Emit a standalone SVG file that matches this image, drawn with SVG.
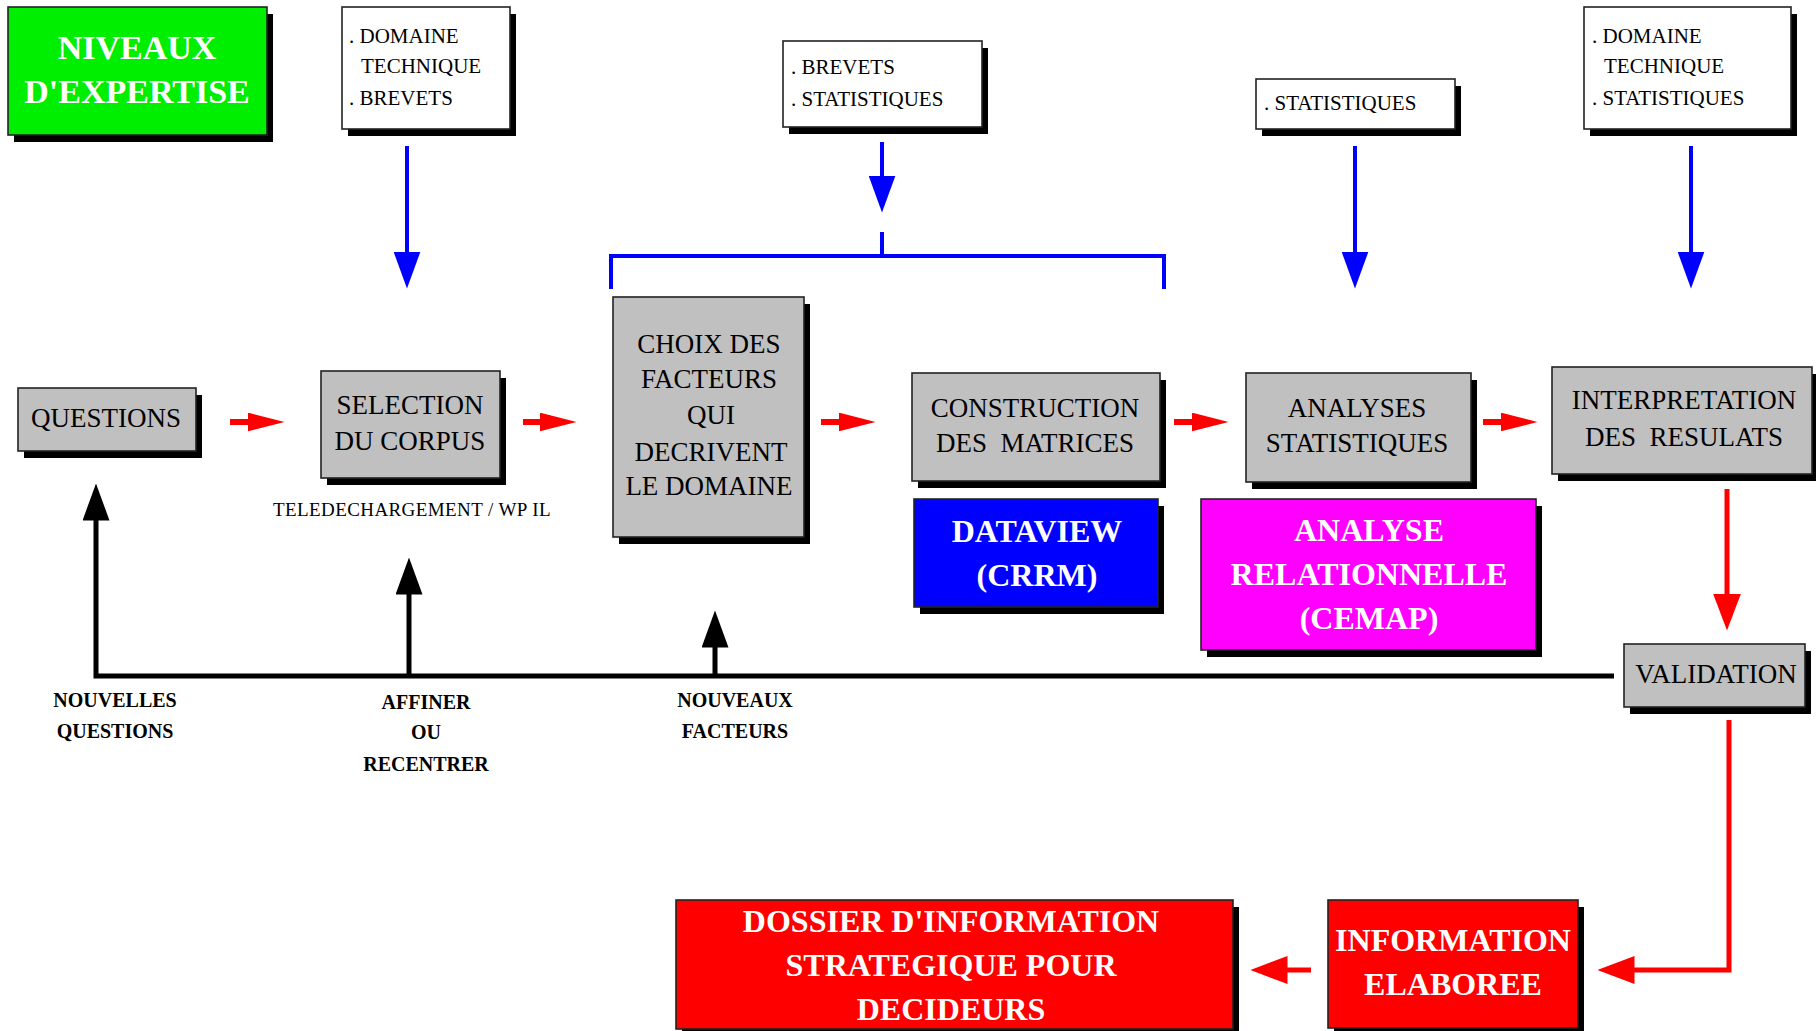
<svg xmlns="http://www.w3.org/2000/svg" width="1816" height="1031" viewBox="0 0 1816 1031">
<defs>
<style>
text{font-family:"Liberation Serif","Times New Roman",serif}
.box{stroke:#222;stroke-width:1.6}
.sh{fill:#000}
.gray{fill:#c0c0c0}
.white{fill:#fff}
.g{font-size:27px;fill:#000;text-anchor:middle;white-space:pre}
.w{font-size:21px;fill:#000}
.b{font-size:32px;font-weight:bold;fill:#fff;text-anchor:middle}
.lbl{font-size:20px;font-weight:bold;fill:#000;text-anchor:middle}
.small{font-size:19px;letter-spacing:0.4px;fill:#000;text-anchor:middle}
.blue{stroke:#0000ff;stroke-width:4;fill:none}
.blk{stroke:#000;stroke-width:5;fill:none}
.red{stroke:#ff0000;stroke-width:6;fill:none}
.red2{stroke:#ff0000;stroke-width:5;fill:none}
</style>
<marker id="hb" markerUnits="userSpaceOnUse" markerWidth="37" markerHeight="27" viewBox="0 0 37 27" refX="0.5" refY="13.5" orient="auto"><path d="M0,0L37,13.5L0,27z" fill="#0000ff"/></marker>
<marker id="hk" markerUnits="userSpaceOnUse" markerWidth="37" markerHeight="27" viewBox="0 0 37 27" refX="0.5" refY="13.5" orient="auto"><path d="M0,0L37,13.5L0,27z" fill="#000"/></marker>
<marker id="hr" markerUnits="userSpaceOnUse" markerWidth="37" markerHeight="19" viewBox="0 0 37 19" refX="0.5" refY="9.5" orient="auto"><path d="M0,0L37,9.5L0,19z" fill="#ff0000"/></marker>
<marker id="hR" markerUnits="userSpaceOnUse" markerWidth="37" markerHeight="28" viewBox="0 0 37 28" refX="0.5" refY="14" orient="auto"><path d="M0,0L37,14L0,28z" fill="#ff0000"/></marker>
</defs>
<rect width="1816" height="1031" fill="#fff"/>

<g id="connectors">
<path class="blue" d="M407,146V252" marker-end="url(#hb)"/>
<path class="blue" d="M882,142V176" marker-end="url(#hb)"/>
<path class="blue" d="M882,232V256M611,289V256H1164V289"/>
<path class="blue" d="M1355,146V252" marker-end="url(#hb)"/>
<path class="blue" d="M1691,146V252" marker-end="url(#hb)"/>
<path class="red" d="M230,422H248" marker-end="url(#hr)"/>
<path class="red" d="M523,422H540" marker-end="url(#hr)"/>
<path class="red" d="M821,422H839" marker-end="url(#hr)"/>
<path class="red" d="M1174,422H1192" marker-end="url(#hr)"/>
<path class="red" d="M1483,422H1501" marker-end="url(#hr)"/>
<path class="red2" d="M1727,489V594" marker-end="url(#hR)"/>
<path class="red2" d="M1729,720V970H1634" marker-end="url(#hR)"/>
<path class="red2" d="M1311,970H1287" marker-end="url(#hR)"/>
<path class="blk" d="M1614,676H96V520" marker-end="url(#hk)"/>
<path class="blk" d="M409,676V594" marker-end="url(#hk)"/>
<path class="blk" d="M715,676V647" marker-end="url(#hk)"/>
</g>

<g id="niveaux">
<rect class="sh" x="14" y="14" width="259" height="128"/>
<rect class="box" x="8" y="7" width="259" height="128" fill="#00ee00"/>
<text class="b" x="137" y="59" style="font-size:34px">NIVEAUX</text>
<text class="b" x="137" y="103" style="font-size:34px">D'EXPERTISE</text>
</g>

<g id="src-domaine-brevets">
<rect class="sh" x="348" y="14" width="168" height="122"/>
<rect class="box white" x="342" y="7" width="168" height="122"/>
<text class="w" x="349" y="43">. DOMAINE</text>
<text class="w" x="361" y="73">TECHNIQUE</text>
<text class="w" x="349" y="105">. BREVETS</text>
</g>

<g id="src-brevets-stats">
<rect class="sh" x="789" y="48" width="199" height="86"/>
<rect class="box white" x="783" y="41" width="199" height="86"/>
<text class="w" x="791" y="74">. BREVETS</text>
<text class="w" x="791" y="106">. STATISTIQUES</text>
</g>

<g id="src-stats">
<rect class="sh" x="1262" y="86" width="199" height="50"/>
<rect class="box white" x="1256" y="79" width="199" height="50"/>
<text class="w" x="1264" y="110">. STATISTIQUES</text>
</g>

<g id="src-domaine-stats">
<rect class="sh" x="1590" y="14" width="207" height="122"/>
<rect class="box white" x="1584" y="7" width="207" height="122"/>
<text class="w" x="1592" y="43">. DOMAINE</text>
<text class="w" x="1604" y="73">TECHNIQUE</text>
<text class="w" x="1592" y="105">. STATISTIQUES</text>
</g>

<g id="questions">
<rect class="sh" x="24" y="395" width="178" height="63"/>
<rect class="box gray" x="18" y="388" width="178" height="63"/>
<text class="g" x="106" y="427">QUESTIONS</text>
</g>

<g id="selection">
<rect class="sh" x="327" y="378" width="179" height="107"/>
<rect class="box gray" x="321" y="371" width="179" height="107"/>
<text class="g" x="410" y="414">SELECTION</text>
<text class="g" x="410" y="450">DU CORPUS</text>
<text class="small" x="412" y="516">TELEDECHARGEMENT / WP IL</text>
</g>

<g id="choix">
<rect class="sh" x="619" y="304" width="191" height="240"/>
<rect class="box gray" x="613" y="297" width="191" height="240"/>
<text class="g" x="709" y="353">CHOIX DES</text>
<text class="g" x="709" y="388">FACTEURS</text>
<text class="g" x="711" y="424">QUI</text>
<text class="g" x="711" y="461">DECRIVENT</text>
<text class="g" x="709" y="495">LE DOMAINE</text>
</g>

<g id="construction">
<rect class="sh" x="918" y="380" width="248" height="108"/>
<rect class="box gray" x="912" y="373" width="248" height="108"/>
<text class="g" x="1035" y="417">CONSTRUCTION</text>
<text class="g" x="1035" y="452">DES  MATRICES</text>
</g>

<g id="dataview">
<rect class="sh" x="920" y="506" width="244" height="108"/>
<rect class="box" x="914" y="499" width="244" height="108" fill="#0000ff"/>
<text class="b" x="1037" y="542">DATAVIEW</text>
<text class="b" x="1037" y="586">(CRRM)</text>
</g>

<g id="analyses">
<rect class="sh" x="1252" y="380" width="225" height="109"/>
<rect class="box gray" x="1246" y="373" width="225" height="109"/>
<text class="g" x="1357" y="417">ANALYSES</text>
<text class="g" x="1357" y="452">STATISTIQUES</text>
</g>

<g id="cemap">
<rect class="sh" x="1207" y="506" width="335" height="151"/>
<rect class="box" x="1201" y="499" width="335" height="151" fill="#ff00ff"/>
<text class="b" x="1369" y="541">ANALYSE</text>
<text class="b" x="1369" y="585">RELATIONNELLE</text>
<text class="b" x="1369" y="629">(CEMAP)</text>
</g>

<g id="interpretation">
<rect class="sh" x="1558" y="374" width="260" height="107"/>
<rect class="box gray" x="1552" y="367" width="260" height="107"/>
<text class="g" x="1684" y="409">INTERPRETATION</text>
<text class="g" x="1684" y="446">DES  RESULATS</text>
</g>

<g id="validation">
<rect class="sh" x="1630" y="651" width="181" height="63"/>
<rect class="box gray" x="1624" y="644" width="181" height="63"/>
<text class="g" x="1716" y="683">VALIDATION</text>
</g>

<g id="info-elaboree">
<rect class="sh" x="1334" y="907" width="250" height="128"/>
<rect class="box" x="1328" y="900" width="250" height="128" fill="#ff0000"/>
<text class="b" x="1453" y="951">INFORMATION</text>
<text class="b" x="1453" y="995">ELABOREE</text>
</g>

<g id="dossier">
<rect class="sh" x="682" y="907" width="557" height="129"/>
<rect class="box" x="676" y="900" width="557" height="129" fill="#ff0000"/>
<text class="b" x="951" y="932">DOSSIER D'INFORMATION</text>
<text class="b" x="951" y="976">STRATEGIQUE POUR</text>
<text class="b" x="951" y="1020">DECIDEURS</text>
</g>

<g id="feedback-labels">
<text class="lbl" x="115" y="707">NOUVELLES</text>
<text class="lbl" x="115" y="738">QUESTIONS</text>
<text class="lbl" x="426" y="709">AFFINER</text>
<text class="lbl" x="426" y="739">OU</text>
<text class="lbl" x="426" y="771">RECENTRER</text>
<text class="lbl" x="735" y="707">NOUVEAUX</text>
<text class="lbl" x="735" y="738">FACTEURS</text>
</g>
</svg>
